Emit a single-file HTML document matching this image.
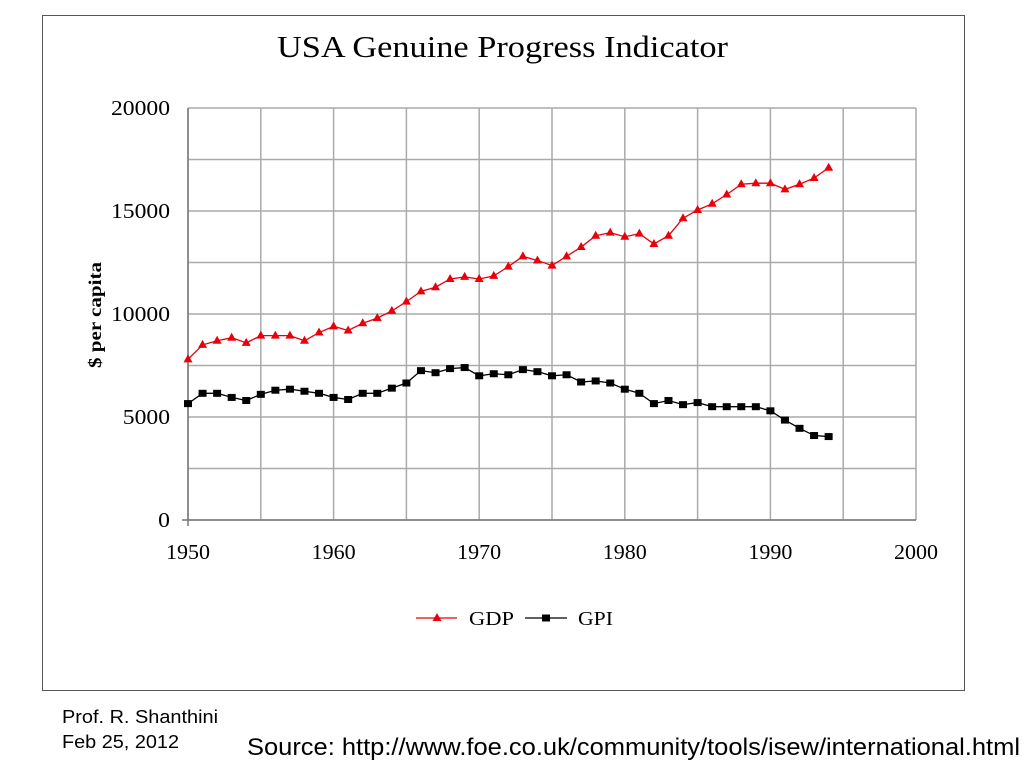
<!DOCTYPE html>
<html><head><meta charset="utf-8"><style>
body{margin:0;width:1024px;height:768px;background:#fff;overflow:hidden;position:relative;font-family:"Liberation Sans",sans-serif}
#frame{position:absolute;left:42px;top:15px;width:921px;height:674px;border:1.5px solid #555;box-sizing:content-box}
</style></head><body>
<div id="frame"></div>
<svg id="chart" width="1024" height="768" style="position:absolute;left:0;top:0">
<text x="62" y="723" font-family="Liberation Sans, sans-serif" font-size="18" textLength="156" lengthAdjust="spacingAndGlyphs">Prof. R. Shanthini</text>
<text x="62" y="748" font-family="Liberation Sans, sans-serif" font-size="18" textLength="117" lengthAdjust="spacingAndGlyphs">Feb 25, 2012</text>
<text x="247" y="755" font-family="Liberation Sans, sans-serif" font-size="24" textLength="773" lengthAdjust="spacingAndGlyphs">Source: http://www.foe.co.uk/community/tools/isew/international.html</text>
</svg>
<script>
const years=[1950,1951,1952,1953,1954,1955,1956,1957,1958,1959,1960,1961,1962,1963,1964,1965,1966,1967,1968,1969,1970,1971,1972,1973,1974,1975,1976,1977,1978,1979,1980,1981,1982,1983,1984,1985,1986,1987,1988,1989,1990,1991,1992,1993,1994];
const gdp=[7800,8500,8700,8850,8600,8950,8950,8950,8700,9100,9400,9200,9550,9800,10150,10600,11100,11300,11700,11800,11700,11850,12300,12800,12600,12350,12800,13250,13800,13950,13750,13900,13400,13800,14650,15050,15350,15800,16300,16350,16350,16050,16300,16600,17100];
const gpi=[5650,6150,6150,5950,5800,6100,6300,6350,6250,6150,5950,5850,6150,6150,6400,6650,7250,7150,7350,7400,7000,7100,7050,7300,7200,7000,7050,6700,6750,6650,6350,6150,5650,5800,5600,5700,5500,5500,5500,5500,5300,4850,4450,4100,4050];
const yTicks=[0,5000,10000,15000,20000];
const xTicks=[1950,1960,1970,1980,1990,2000];
const NS='http://www.w3.org/2000/svg';
const svg=document.getElementById('chart');
const X0=188,X1=916,Y0=520,Y1=108;
const xs=v=>X0+(v-1950)/50*(X1-X0);
const ys=v=>Y0-(v/20000)*(Y0-Y1);
function mk(t,a,parent){const e=document.createElementNS(NS,t);for(const k in a)e.setAttribute(k,a[k]);(parent||svg).appendChild(e);return e;}
for(let v=0;v<=20000;v+=2500){const l=mk('line',{x1:X0,x2:X1,y1:ys(v),y2:ys(v),stroke:'#aaa','stroke-width':1.5});

}
for(let y=1950;y<=2000;y+=5){const l=mk('line',{x1:xs(y),x2:xs(y),y1:Y1,y2:Y0,stroke:'#aaa','stroke-width':1.5});

}
const ax=mk('line',{x1:X0,x2:X0,y1:Y1,y2:Y0+6,stroke:'#777','stroke-width':1.5});


const axx=mk('line',{x1:X0-6,x2:X1,y1:Y0,y2:Y0,stroke:'#777','stroke-width':1.5});


const serif='"Liberation Serif",serif';
yTicks.forEach(v=>{const s=String(v);const t=mk('text',{x:170,y:ys(v)+7,'text-anchor':'end','font-family':serif,'font-size':21,textLength:s.length*11.8,lengthAdjust:'spacingAndGlyphs'});t.textContent=s;

});
xTicks.forEach(v=>{const t=mk('text',{x:xs(v),y:559,'text-anchor':'middle','font-family':serif,'font-size':21,textLength:44,lengthAdjust:'spacingAndGlyphs'});t.textContent=v;

});
const title=mk('text',{x:277,y:57,'font-family':serif,'font-size':31,textLength:451,lengthAdjust:'spacingAndGlyphs'});title.textContent='USA Genuine Progress Indicator';


const yt=mk('text',{x:0,y:0,'text-anchor':'middle','font-family':serif,'font-size':18,'font-weight':'bold',textLength:106,lengthAdjust:'spacingAndGlyphs',transform:'translate(101,315) rotate(-90)'});yt.textContent='$ per capita';


function series(vals,color,shape,name){
 const p=mk('polyline',{points:years.map((y,i)=>xs(y)+','+ys(vals[i])).join(' '),fill:'none',stroke:color,'stroke-width':1.3});
 
 
 years.forEach((y,i)=>{const cx=xs(y),cy=ys(vals[i]);let m;
  if(shape==='tri')m=mk('polygon',{points:`${cx},${cy-5} ${cx-4.5},${cy+3} ${cx+4.5},${cy+3}`,fill:color});
  else m=mk('rect',{x:cx-4,y:cy-3.5,width:8,height:7,fill:color});
  
  });
}
series(gdp,'#e8000b','tri','gdp');
series(gpi,'#000','sq','gpi');
const lg=mk('g',{});


mk('line',{x1:416,x2:457,y1:618,y2:618,stroke:'#e8000b','stroke-width':1.3},lg);
mk('polygon',{points:'437,613 432.5,621 441.5,621',fill:'#e8000b'},lg);
const t1=mk('text',{x:469,y:625,'font-family':serif,'font-size':20,textLength:45,lengthAdjust:'spacingAndGlyphs'},lg);t1.textContent='GDP';


mk('line',{x1:525,x2:567,y1:618,y2:618,stroke:'#000','stroke-width':1.3},lg);
mk('rect',{x:542,y:614.5,width:8,height:7,fill:'#000'},lg);
const t2=mk('text',{x:578,y:625,'font-family':serif,'font-size':20,textLength:35,lengthAdjust:'spacingAndGlyphs'},lg);t2.textContent='GPI';


</script>
</body></html>
